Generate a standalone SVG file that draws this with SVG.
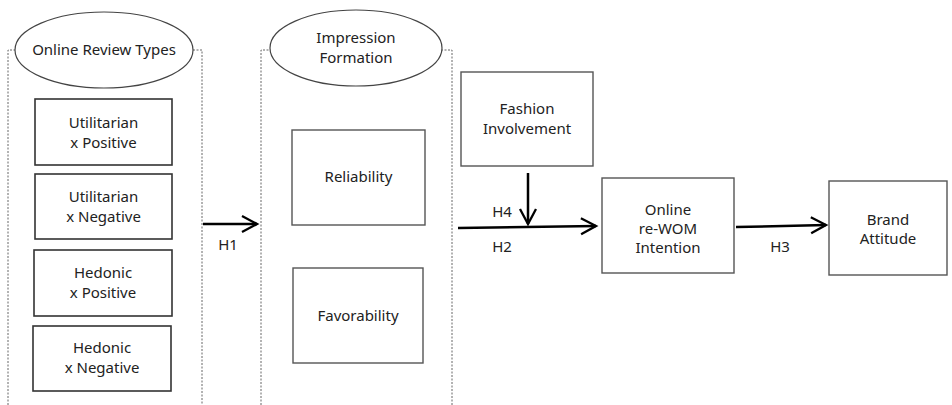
<svg xmlns="http://www.w3.org/2000/svg" width="952" height="405" viewBox="0 0 952 405">
<style>
.panel{fill:none;stroke:#666;stroke-width:1;stroke-dasharray:2 1.5}
.ell{fill:#fff;stroke:#444;stroke-width:1.2}
.box{fill:#fff;stroke:#555;stroke-width:1.4}
.dbox{fill:#fff;stroke:#333;stroke-width:1.6}
.t{font-family:"Noto Sans","Open Sans",sans-serif;font-size:15px;fill:#222;text-anchor:middle}
.c{fill:none;stroke:#000;stroke-width:2.5}
</style>
<defs>
<marker id="ah" viewBox="0 0 20 20" refX="17" refY="10" markerWidth="20" markerHeight="20" markerUnits="userSpaceOnUse" orient="auto">
<path d="M2,2 L17,10 L2,18" fill="none" stroke="#000" stroke-width="2.3"/>
</marker>
</defs>
<rect width="952" height="405" fill="#fff"/>
<g id="panel-review">
<path class="panel" d="M8,405 V50 H16 M193,50 H202 V405"/>
<ellipse class="ell" cx="104" cy="50" rx="89" ry="38"/>
<text class="t" x="104" y="55">Online Review Types</text>
</g>
<g id="panel-impression">
<path class="panel" d="M261,405 V50 H271 M441,50 H452 V405"/>
<ellipse class="ell" cx="356" cy="48" rx="86" ry="38"/>
<text class="t" x="356" y="43">Impression</text>
<text class="t" x="356" y="63">Formation</text>
</g>
<g id="up">
<rect class="dbox" x="35" y="99" width="137" height="66"/>
<text class="t" x="103.5" y="128">Utilitarian</text>
<text class="t" x="103.5" y="148">x Positive</text>
</g>
<g id="un">
<rect class="dbox" x="35" y="174" width="137" height="65"/>
<text class="t" x="103.5" y="202">Utilitarian</text>
<text class="t" x="103.5" y="222">x Negative</text>
</g>
<g id="hp">
<rect class="dbox" x="34" y="250" width="138" height="66"/>
<text class="t" x="103" y="278">Hedonic</text>
<text class="t" x="103" y="298">x Positive</text>
</g>
<g id="hn">
<rect class="dbox" x="33" y="326" width="138" height="65"/>
<text class="t" x="102" y="353">Hedonic</text>
<text class="t" x="102" y="373">x Negative</text>
</g>
<g id="reliability">
<rect class="box" x="292" y="130" width="133" height="95"/>
<text class="t" x="358.5" y="182">Reliability</text>
</g>
<g id="favorability">
<rect class="box" x="293" y="268" width="130" height="95"/>
<text class="t" x="358" y="321">Favorability</text>
</g>
<g id="fashion">
<rect class="box" x="461" y="72" width="132" height="94"/>
<text class="t" x="527" y="114">Fashion</text>
<text class="t" x="527" y="134">Involvement</text>
</g>
<g id="rewom">
<rect class="box" x="602" y="178" width="132" height="95"/>
<text class="t" x="668" y="215">Online</text>
<text class="t" x="668" y="234">re-WOM</text>
<text class="t" x="668" y="253">Intention</text>
</g>
<g id="brand">
<rect class="box" x="829" y="181" width="118" height="94"/>
<text class="t" x="888" y="225">Brand</text>
<text class="t" x="888" y="244">Attitude</text>
</g>
<g id="connectors">
<line class="c" x1="203" y1="224" x2="257" y2="224" marker-end="url(#ah)"/>
<line class="c" x1="458" y1="228" x2="596" y2="226" marker-end="url(#ah)"/>
<line class="c" x1="528" y1="173" x2="528" y2="224" marker-end="url(#ah)"/>
<line class="c" x1="736" y1="227" x2="826" y2="225" marker-end="url(#ah)"/>
<text class="t" x="228" y="250">H1</text>
<text class="t" x="502" y="217">H4</text>
<text class="t" x="502" y="252">H2</text>
<text class="t" x="780" y="252">H3</text>
</g>
</svg>
